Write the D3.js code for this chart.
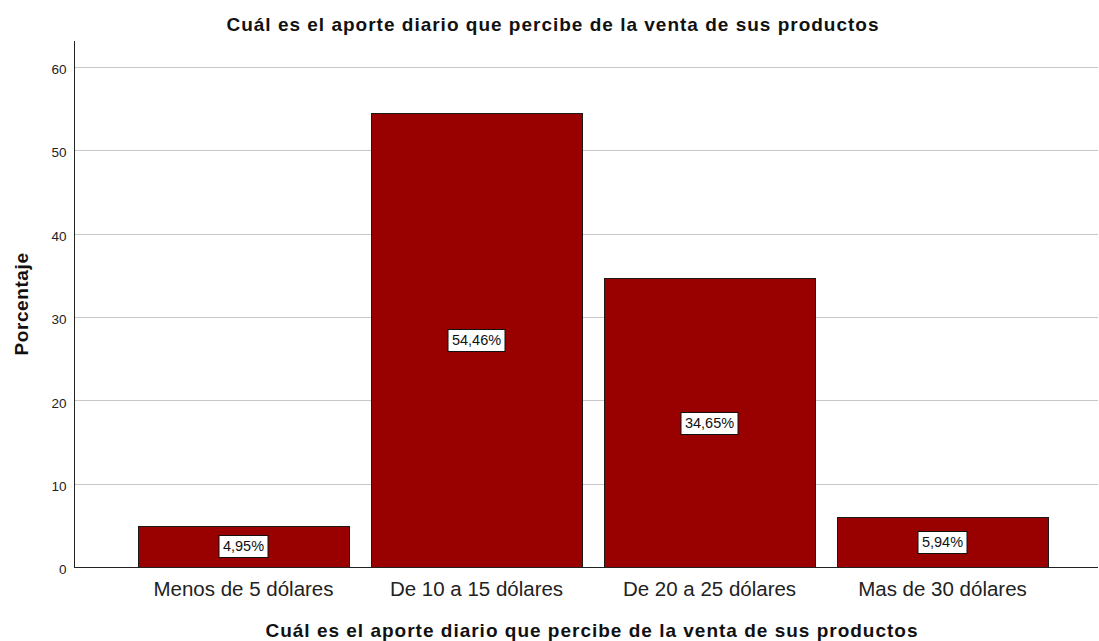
<!DOCTYPE html>
<html><head><meta charset="utf-8">
<script src="https://cdn.jsdelivr.net/npm/d3@7"></script>
<style>body{margin:0;background:#fff}svg{display:block}</style>
</head><body>
<svg id="c" width="1099" height="641"></svg>
<script>
const categories = ["Menos de 5 dólares","De 10 a 15 dólares","De 20 a 25 dólares","Mas de 30 dólares"];
const values = [4.95, 54.46, 34.65, 5.94];
const labels = ["4,95%","54,46%","34,65%","5,94%"];
const yTicks = [0,10,20,30,40,50,60];
const title = "Cuál es el aporte diario que percibe de la venta de sus productos";
const xTitle = "Cuál es el aporte diario que percibe de la venta de sus productos";
const yTitle = "Porcentaje";

(function(){
const svg = d3.select("#c");
const font = "'Liberation Sans', Arial, sans-serif";
const pLeft = 74, pRight = 1098, pTop = 41, pBottom = 567;

const y = d3.scaleLinear().domain([0, 63.1]).range([pBottom, pTop]);
const x = d3.scaleBand().domain(categories).range([127, 1059]).paddingInner(0.094).paddingOuter(0.047);

// gridlines
svg.append("g").selectAll("line").data(yTicks.filter(d=>d>0)).join("line")
  .attr("x1", pLeft).attr("x2", pRight)
  .attr("y1", d=>Math.round(y(d))+0.5).attr("y2", d=>Math.round(y(d))+0.5)
  .attr("stroke", "#c8c8c8").attr("stroke-width", 1);

// y axis
const yAxis = d3.axisLeft(y).tickValues(yTicks).tickSize(0).tickPadding(8);
const gy = svg.append("g").attr("transform", `translate(${pLeft+0.5},0)`).call(yAxis);
gy.select(".domain").remove();
gy.selectAll("text").attr("font-family", font).attr("font-size", 13.5).attr("fill", "#222").attr("dy", "0.5em");
svg.append("line").attr("x1", pLeft+0.5).attr("x2", pLeft+0.5).attr("y1", pTop).attr("y2", pBottom+0.5)
  .attr("stroke", "#222").attr("stroke-width", 1);

// bars
svg.append("g").selectAll("rect").data(values).join("rect")
  .attr("x", (d,i)=>Math.round(x(categories[i]))+0.5)
  .attr("y", d=>Math.round(y(d))+0.5)
  .attr("width", Math.round(x.bandwidth()))
  .attr("height", d=>Math.round(pBottom - y(d)))
  .attr("fill", "#990000").attr("stroke", "#1a1a1a").attr("stroke-width", 1);

// x axis
svg.append("line").attr("x1", pLeft).attr("x2", pRight).attr("y1", pBottom+0.5).attr("y2", pBottom+0.5)
  .attr("stroke", "#222").attr("stroke-width", 1);
const xAxis = d3.axisBottom(x).tickSize(0).tickPadding(0);
const gx = svg.append("g").attr("transform", `translate(0,${pBottom})`).call(xAxis);
gx.select(".domain").remove();
gx.selectAll("text").attr("font-family", font).attr("font-size", 20.5).attr("fill", "#222")
  .attr("dy", null).attr("y", 29);

// value labels
const lg = svg.append("g").selectAll("g").data(values).join("g")
  .attr("transform", (d,i)=>`translate(${x(categories[i]) + x.bandwidth()/2},${Math.round((y(d)+pBottom)/2)})`);
lg.append("text").text((d,i)=>labels[i])
  .attr("font-family", font).attr("font-size", 14.5).attr("fill", "#111")
  .attr("text-anchor", "middle").attr("dy", "0.36em");
lg.each(function(){
  const g = d3.select(this);
  const b = g.select("text").node().getBBox();
  g.insert("rect", "text").attr("x", Math.round(b.x - 4)+0.5).attr("y", -11+0.5)
    .attr("width", Math.round(b.width + 8)).attr("height", 22)
    .attr("fill", "#fff").attr("stroke", "#111").attr("stroke-width", 1);
});

// titles
svg.append("text").attr("x", 553).attr("y", 31).attr("text-anchor", "middle")
  .attr("font-family", font).attr("font-weight", "bold").attr("font-size", 19).attr("letter-spacing", 1)
  .attr("fill", "#111").text(title);
svg.append("text").attr("x", 592).attr("y", 637).attr("text-anchor", "middle")
  .attr("font-family", font).attr("font-weight", "bold").attr("font-size", 19).attr("letter-spacing", 1)
  .attr("fill", "#111").text(xTitle);
svg.append("text").attr("transform", "translate(28,304) rotate(-90)").attr("text-anchor", "middle")
  .attr("font-family", font).attr("font-weight", "bold").attr("font-size", 19).attr("letter-spacing", 0.6)
  .attr("fill", "#111").text(yTitle);
})();
</script>
</body></html>
